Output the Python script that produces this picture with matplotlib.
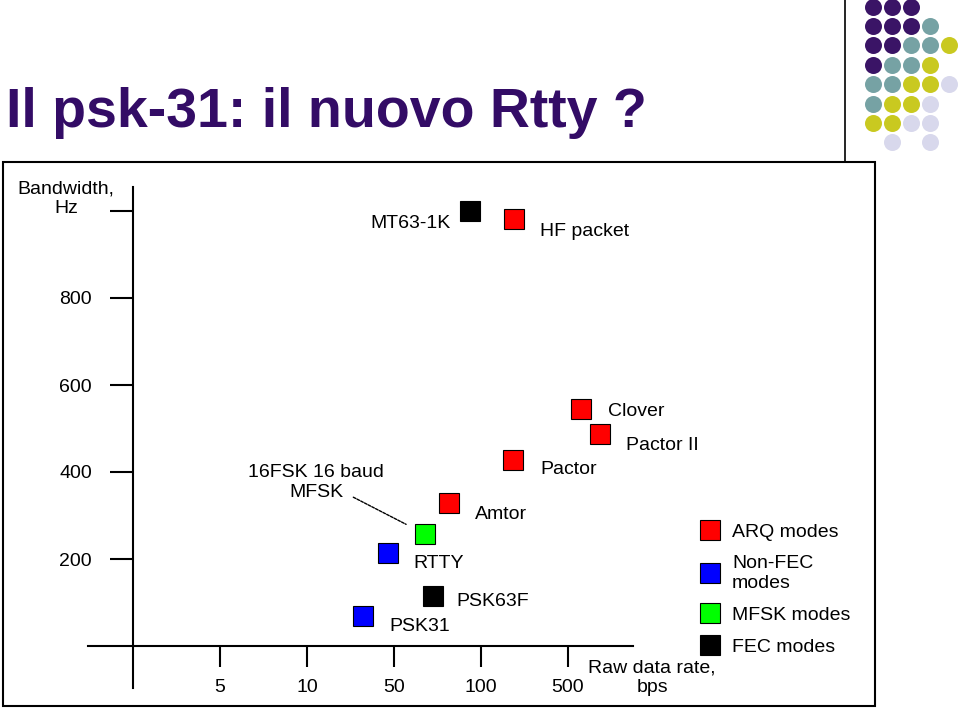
import matplotlib
matplotlib.use("Agg")
import matplotlib.pyplot as plt
from matplotlib.patches import Rectangle
from matplotlib.lines import Line2D

plt.rcParams["font.family"] = ["Liberation Sans", "DejaVu Sans"]

# Data: x in tick units of the pseudo-log rate axis (1 = 5 bps, 2 = 10, 3 = 50, 4 = 100, 5 = 500)
modes = ["MT63-1K", "HF packet", "Clover", "Pactor II", "Pactor", "Amtor",
         "16FSK 16 baud\nMFSK", "RTTY", "PSK63F", "PSK31"]
rate_pos = [3.87, 4.38, 5.15, 5.37, 4.37, 3.63, 3.36, 2.93, 3.45, 2.64]
bandwidth = [1000, 982, 545, 487, 428, 329, 257, 214, 115, 69]
mode_type = ["FEC", "ARQ", "ARQ", "ARQ", "ARQ", "ARQ", "MFSK", "Non-FEC", "FEC", "Non-FEC"]

rate_ticks = [1, 2, 3, 4, 5]
rate_labels = ["5", "10", "50", "100", "500"]
bw_ticks = [200, 400, 600, 800, 1000]
bw_labels = ["200", "400", "600", "800", ""]

type_names = ["ARQ", "Non-FEC", "MFSK", "FEC"]
type_labels = ["ARQ modes", "Non-FEC\nmodes", "MFSK modes", "FEC modes"]
type_colors = {"ARQ": "#ff0000", "Non-FEC": "#0000ff", "MFSK": "#00ff00", "FEC": "#000000"}

# label offsets from each marker, in pixels (dx, dy down)
label_off = [(-19, 13), (26, 13), (27, 3), (26, 11), (27, 10), (26, 12),
             (-109, -52), (25, 11), (23, 6), (27, 11)]

# decorative dot grid (P purple, T teal, Y yellow, L lavender)
dot_rows = ["PPP..", "PPPT.", "PPTTY", "PTTY.", "TTYYL", "TYYL.", "YYLL.", ".L.L."]
dot_colors = {"P": "#3a1466", "T": "#76a2a4", "Y": "#c9c920", "L": "#d8d8ec"}

W, H = 960, 708
PT = 72 / 100  # points per pixel


def fx(x):
    return x / W


def fy(y):
    return 1 - y / H


fig = plt.figure(figsize=(9.6, 7.08), dpi=100)

fig.text(fx(6), fy(127), "Il psk-31: il nuovo Rtty ?", fontsize=40, fontweight="bold",
         color="#330c66", va="baseline", ha="left")

# decoration lines and chart frame
fig.add_artist(Line2D([fx(845), fx(845)], [fy(0), fy(162)], color="black", lw=1.2))
fig.add_artist(Rectangle((fx(3), fy(706)), fx(872), 544 / H, fill=False,
                         edgecolor="black", lw=1.5, transform=fig.transFigure))

# dot grid
axd = fig.add_axes([fx(864), fy(152), 94 / W, 155 / H])
axd.set_xlim(-0.5, 4.5)
axd.set_ylim(7.5, -0.5)
axd.axis("off")
for r, row in enumerate(dot_rows):
    for c, ch in enumerate(row):
        if ch != ".":
            axd.plot(c, r, "o", ms=17 * PT, color=dot_colors[ch], mec="none")

# chart axes: 87 px per x unit, 87 px per 200 Hz, origin at px (133, 646)
ax = fig.add_axes([fx(3), fy(706), 872 / W, 544 / H])
ax.set_xlim((3 - 133) / 87, (875 - 133) / 87)
ax.set_ylim((646 - 706) * 200 / 87, (646 - 162) * 200 / 87)
ax.patch.set_visible(False)
for s in ["top", "right"]:
    ax.spines[s].set_visible(False)
ax.spines["left"].set_position(("data", 0))
ax.spines["bottom"].set_position(("data", 0))
ax.spines["left"].set_bounds((646 - 688) * 200 / 87, (646 - 187) * 200 / 87)
ax.spines["bottom"].set_bounds((88 - 133) / 87, (633 - 133) / 87)
ax.spines["left"].set_linewidth(1.5)
ax.spines["bottom"].set_linewidth(1.5)

ax.set_xticks(rate_ticks, rate_labels)
ax.set_yticks(bw_ticks, bw_labels)
ax.tick_params(axis="x", direction="out", length=21 * PT, width=1.5, pad=12 * PT,
               labelsize=14)
ax.tick_params(axis="y", direction="out", length=23 * PT, width=1.5, pad=18 * PT,
               labelsize=14)

for name, x, y, t, (dx, dy) in zip(modes, rate_pos, bandwidth, mode_type, label_off):
    ax.plot(x, y, "s", ms=15 * PT * 1.35, color=type_colors[t], mec="black", mew=0.8)
    if dx < -50:
        ax.annotate(name, (x, y), xytext=(dx * PT, -dy * PT), textcoords="offset points",
                    ha="center", va="center", multialignment="center", fontsize=14)
        ax.annotate("", (x, y), xytext=(-72 * PT, 37 * PT), textcoords="offset points",
                    arrowprops=dict(arrowstyle="-", lw=1, ls=(0, (2, 1)),
                                    shrinkA=0, shrinkB=21.6 * PT))
    else:
        ax.annotate(name, (x, y), xytext=(dx * PT, -dy * PT), textcoords="offset points",
                    ha="right" if dx < 0 else "left", va="center", fontsize=14)

fig.text(fx(66), fy(199), "Bandwidth,\nHz", ha="center", va="center",
         multialignment="center", fontsize=14)
fig.text(fx(652), fy(678), "Raw data rate,\nbps", ha="center", va="center",
         multialignment="center", fontsize=14)

handles = [Line2D([], [], ls="none", marker="s", ms=15 * PT * 1.35, color=type_colors[n],
                  mec="black", mew=0.8) for n in type_names]
ax.legend(handles, type_labels, loc="upper left", bbox_to_anchor=(fx(699), fy(523)),
          bbox_transform=fig.transFigure, frameon=False, fontsize=14, borderpad=0,
          borderaxespad=0, handlelength=1.1, handletextpad=0.6, labelspacing=0.75)

fig.savefig("out.png", dpi=100)
